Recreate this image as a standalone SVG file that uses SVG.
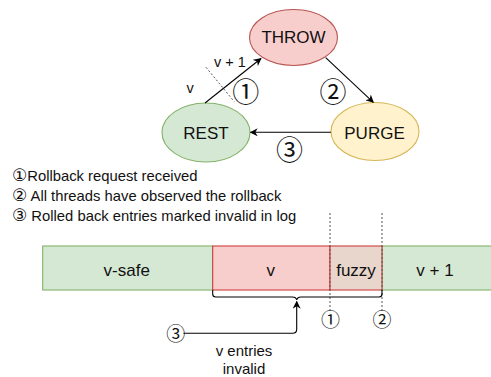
<svg xmlns="http://www.w3.org/2000/svg" width="491" height="377" viewBox="0 0 491 377">
  <style>
    text { font-family: "Liberation Sans", Arial, sans-serif; fill: #111; }
    .lbl { font-size: 17px; text-anchor: middle; }
    .sm { font-size: 14.8px; }
    .mid { text-anchor: middle; }
    .cd { font-family: "Noto Sans CJK JP", "DejaVu Sans", sans-serif; }
    .cdl { font-family: "DejaVu Sans", "Noto Sans CJK JP", sans-serif; font-size: 17px; }
    .edge { fill: none; stroke: #000; stroke-width: 1.1; }
    .dash { fill: none; stroke: #555; stroke-width: 1; stroke-dasharray: 2 2; }
  </style>
  <defs>
    <marker id="arrow" viewBox="0 0 10 10" refX="9" refY="5" markerWidth="8" markerHeight="8" markerUnits="userSpaceOnUse" orient="auto">
      <path d="M0,0 L10,5 L0,10 L3,5 Z" fill="#000"/>
    </marker>
  </defs>

  <!-- state machine -->
  <g id="throw">
    <ellipse cx="293.5" cy="37.5" rx="44" ry="28" fill="#f8cecc" stroke="#b85450" stroke-width="1.1"/>
    <text class="lbl" x="293.5" y="42.7">THROW</text>
  </g>
  <g id="rest">
    <ellipse cx="206" cy="132.5" rx="44" ry="29.5" fill="#d5e8d4" stroke="#82b366" stroke-width="1.1"/>
    <text class="lbl" x="206" y="139.3">REST</text>
  </g>
  <g id="purge">
    <ellipse cx="375" cy="131.5" rx="44" ry="29" fill="#fff2cc" stroke="#d6b656" stroke-width="1.1"/>
    <text class="lbl" x="374.5" y="139.3">PURGE</text>
  </g>

  <g id="connectors">
    <line class="edge" x1="205" y1="103" x2="261" y2="58.5" marker-end="url(#arrow)"/>
    <line class="edge" x1="325.7" y1="57.7" x2="373.3" y2="102.3" marker-end="url(#arrow)"/>
    <line class="edge" x1="331" y1="132.3" x2="250.5" y2="132.3" marker-end="url(#arrow)"/>
    <!-- version boundary on the rollback edge -->
    <line class="dash" x1="206" y1="67.3" x2="234.3" y2="101.7"/>
  </g>

  <g id="edge-labels">
    <text class="mid" font-size="14.5" x="230" y="67">v + 1</text>
    <text class="mid" font-size="14.5" x="190" y="92.7">v</text>
    <text class="cd mid" font-size="27" x="245.7" y="101.8">①</text>
    <text class="cd mid" font-size="27" x="333" y="101.8">②</text>
    <text class="cd mid" font-size="27" x="289.5" y="160.2">③</text>
  </g>

  <!-- legend -->
  <g id="legend" class="sm">
    <text x="12" y="181.3"><tspan class="cdl">①</tspan>Rollback request received</text>
    <text x="12" y="201.3"><tspan class="cdl">②</tspan> All threads have observed the rollback</text>
    <text x="12" y="221"><tspan class="cdl">③</tspan> Rolled back entries marked invalid in log</text>
  </g>

  <!-- log bar -->
  <g id="log">
    <rect x="42.7" y="246" width="170" height="44" fill="#d5e8d4" stroke="#82b366" stroke-width="1.1"/>
    <rect x="382" y="246" width="115" height="44" fill="#d5e8d4" stroke="#82b366" stroke-width="1.1"/>
    <rect x="212.7" y="246" width="117.3" height="44" fill="#f8cecc" stroke="#cc3f3f" stroke-width="1.1"/>
    <rect x="330" y="246" width="52" height="44" fill="#e8d6cc" stroke="#cc3f3f" stroke-width="1.1"/>
    <text class="lbl" x="126.7" y="276">v-safe</text>
    <text class="lbl" x="270.7" y="276">v</text>
    <text class="lbl" x="356" y="276">fuzzy</text>
    <text class="lbl" x="435" y="276">v + 1</text>
  </g>

  <g id="markers">
    <line class="dash" x1="330" y1="213" x2="330" y2="312"/>
    <line class="dash" x1="382" y1="213" x2="382" y2="312"/>
    <text class="cd mid" font-size="19" x="330.5" y="327.3">①</text>
    <text class="cd mid" font-size="19" x="382" y="327.3">②</text>
  </g>

  <g id="brace">
    <path class="edge" d="M212.7,290 V294 Q212.7,297 215.7,297 H292.5 Q296,297 296.7,300 Q297.4,297 301,297 H379 Q382,297 382,294 V290"/>
  </g>

  <g id="invalid-note">
    <text class="cd mid" font-size="19" x="175.7" y="341.2">③</text>
    <path class="edge" d="M183.5,333.3 H292.7 Q296.7,333.3 296.7,329.3 V301.5" marker-end="url(#arrow)"/>
    <text class="mid" font-size="15" x="244" y="356">v entries</text>
    <text class="mid" font-size="15" x="244" y="374">invalid</text>
  </g>
</svg>
